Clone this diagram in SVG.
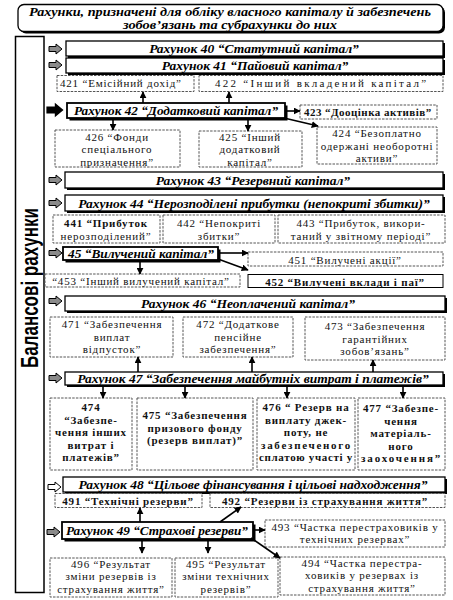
<svg xmlns="http://www.w3.org/2000/svg" xmlns:xlink="http://www.w3.org/1999/xlink" width="453" height="600" viewBox="0 0 453 600">
<style>
.acc{fill:#fff;stroke:#000;stroke-width:1.3}
.sh{fill:#000}
.sub{fill:#fff;stroke:#555;stroke-width:1;stroke-dasharray:2.5 1.2}
.at{font-family:"Liberation Serif",serif;font-weight:bold;font-style:italic;font-size:13.5px;text-anchor:middle;fill:#000}
.tt{font-family:"Liberation Serif",serif;font-weight:bold;font-style:italic;font-size:11.5px;text-anchor:middle;fill:#000}
.st{font-family:"Liberation Serif",serif;font-size:11px;letter-spacing:0.8px;text-anchor:middle;fill:#111}
.b{font-weight:bold}
.con{stroke:#000;stroke-width:1.6;fill:none;marker-end:url(#ah)}
.ig{fill:#8a8a8a;stroke:#000;stroke-width:1}
.iw{fill:#fff;stroke:#000;stroke-width:1}
.ik{fill:#000;stroke:#000;stroke-width:1}
</style>
<defs>
<marker id="ah" viewBox="0 0 10 10" refX="9" refY="5" markerWidth="7" markerHeight="7" markerUnits="userSpaceOnUse" orient="auto">
<path d="M0,0 L10,5 L0,10 Z" fill="#000"/>
</marker>
<path id="ico" d="M0,-2.5 L7,-2.5 L7,-5 L13,0 L7,5 L7,2.5 L0,2.5 Z"/>
</defs>

<g id="title">
<rect x="20" y="6.5" width="425" height="27" rx="6" class="sh"/>
<rect x="18" y="4.5" width="425" height="27" rx="6" fill="#fff" stroke="#000" stroke-width="1.3"/>
<text x="230" y="15.8" class="tt" textLength="402" lengthAdjust="spacingAndGlyphs">Рахунки, призначені для обліку власного капіталу й забезпечень</text>
<text x="230" y="29.2" class="tt" textLength="214" lengthAdjust="spacingAndGlyphs">зобов’язань та субрахунки до них</text>
</g>

<g id="balance">
<rect x="15.5" y="36.5" width="28.5" height="556" fill="#fff" stroke="#000" stroke-width="1.5"/>
<text transform="translate(38,288) rotate(-90)" font-family="Liberation Sans, sans-serif" font-weight="bold" font-size="24" text-anchor="middle" textLength="160" lengthAdjust="spacingAndGlyphs">Балансові рахунки</text>
</g>

<g id="icons">
<use xlink:href="#ico" x="49" y="49" class="ig"/>
<use xlink:href="#ico" x="49" y="65" class="ig"/>
<use xlink:href="#ico" transform="translate(47,110) scale(1.2)" class="ik"/>
<use xlink:href="#ico" x="49" y="180" class="ig"/>
<use xlink:href="#ico" x="49" y="203" class="ig"/>
<use xlink:href="#ico" x="49" y="253" class="ig"/>
<use xlink:href="#ico" x="49" y="301" class="ig"/>
<use xlink:href="#ico" x="49" y="378" class="ig"/>
<use xlink:href="#ico" x="48" y="487" class="iw"/>
<use xlink:href="#ico" x="47" y="532" class="ig"/>
</g>

<g id="a40"><rect x="68" y="43" width="377" height="15" class="sh"/><rect x="66" y="41" width="377" height="15" class="acc"/><text x="254" y="53" class="at">Рахунок 40 “Статутний капітал”</text></g>
<g id="a41"><rect x="68" y="60" width="377" height="15" class="sh"/><rect x="66" y="58" width="377" height="15" class="acc"/><text x="255" y="70" class="at">Рахунок 41 “Пайовий капітал”</text></g>
<g id="s421"><rect x="57" y="75.5" width="137" height="16" class="sub"/><text x="60" y="87" class="st" style="text-anchor:start">421 “Емісійний дохід”</text></g>
<g id="s422"><rect x="199" y="75.5" width="244" height="16" class="sub"/><text x="321" y="87" class="st" textLength="212">422 “Інший вкладений капітал”</text></g>

<g id="a42"><rect x="69.5" y="105.5" width="218" height="15" class="sh"/><rect x="67" y="103" width="218" height="15" class="acc" style="stroke-width:1.8"/><text x="176" y="115" class="at" textLength="204" lengthAdjust="spacingAndGlyphs">Рахунок 42 “Додатковий капітал”</text></g>
<g id="s423"><rect x="300" y="105" width="137" height="14" class="sub"/><text x="368" y="116" class="st b" textLength="128">423 “Дооцінка активів”</text></g>
<g id="s424"><rect x="317" y="127" width="120" height="37" class="sub"/><text x="377" y="137" class="st">424 “Безоплатно</text><text x="377" y="149.5" class="st">одержані необоротні</text><text x="377" y="162" class="st">активи”</text></g>
<g id="s426"><rect x="55" y="130" width="125" height="37" class="sub"/><text x="117" y="140.5" class="st">426 “Фонди</text><text x="117" y="153" class="st">спеціального</text><text x="117" y="165.5" class="st">призначення”</text></g>
<g id="s425"><rect x="199" y="131" width="103" height="36" class="sub"/><text x="250" y="140.5" class="st">425 “Інший</text><text x="250" y="153" class="st">додатковий</text><text x="250" y="165.5" class="st">капітал”</text></g>

<g id="a43"><rect x="67" y="174" width="378" height="16" class="sh"/><rect x="65" y="172" width="378" height="16" class="acc"/><text x="253" y="185" class="at">Рахунок 43 “Резервний капітал”</text></g>
<g id="a44"><rect x="67" y="197" width="378" height="16" class="sh"/><rect x="65" y="195" width="378" height="16" class="acc"/><text x="254" y="207.5" class="at">Рахунок 44 “Нерозподілені прибутки (непокриті збитки)”</text></g>
<g id="s441"><rect x="53" y="215" width="107" height="28" class="sub"/><text x="106" y="226.5" class="st b">441 “Прибуток</text><text x="106" y="239.5" class="st">нерозподілений”</text></g>
<g id="s442"><rect x="163" y="215" width="112" height="28" class="sub"/><text x="219" y="226.5" class="st">442 “Непокриті</text><text x="219" y="239.5" class="st">збитки”</text></g>
<g id="s443"><rect x="278" y="215" width="167" height="28" class="sub"/><text x="361" y="226.5" class="st">443 “Прибуток, викори-</text><text x="361" y="239.5" class="st">таний у звітному періоді”</text></g>

<g id="a45"><rect x="65.5" y="249.5" width="155" height="13" class="sh"/><rect x="63" y="247" width="155" height="13" class="acc" style="stroke-width:1.8"/><text x="141" y="258" class="at" textLength="146" lengthAdjust="spacingAndGlyphs">45 “Вилучений капітал”</text></g>
<g id="s451"><rect x="248" y="252" width="195" height="14" class="sub"/><text x="345" y="263.5" class="st">451 “Вилучені акції”</text></g>
<g id="s453"><rect x="45" y="274" width="195" height="13" class="sub"/><text x="141" y="285" class="st">“453 “Інший вилучений капітал”</text></g>
<g id="s452"><rect x="248" y="274.5" width="195" height="13" class="sub" style="stroke:#000;stroke-dasharray:none"/><text x="345" y="285.5" class="st b">452 “Вилучені вклади і паї”</text></g>

<g id="a46"><rect x="67" y="298" width="380" height="15" class="sh"/><rect x="65" y="296" width="380" height="15" class="acc"/><text x="248" y="308" class="at">Рахунок 46 “Неоплачений капітал”</text></g>
<g id="s471"><rect x="50" y="317" width="123" height="40" class="sub"/><text x="112" y="328" class="st">471 “Забезпечення</text><text x="112" y="340.5" class="st">виплат</text><text x="112" y="353" class="st">відпусток”</text></g>
<g id="s472"><rect x="183" y="317" width="110" height="40" class="sub"/><text x="238" y="328" class="st">472 “Додаткове</text><text x="238" y="340.5" class="st">пенсійне</text><text x="238" y="353" class="st">забезпечення”</text></g>
<g id="s473"><rect x="305" y="317" width="140" height="43" class="sub"/><text x="375" y="330" class="st">473 “Забезпечення</text><text x="375" y="342.5" class="st">гарантійних</text><text x="375" y="355" class="st">зобов’язань”</text></g>

<g id="a47"><rect x="67" y="374" width="378" height="13" class="sh"/><rect x="65" y="372" width="378" height="13" class="acc"/><text x="253" y="383" class="at">Рахунок 47 “Забезпечення майбутніх витрат і платежів”</text></g>
<g id="s474"><rect x="50" y="398" width="82" height="72" class="sub"/><text x="91" y="411" class="st b">474</text><text x="91" y="423.5" class="st b">“Забезпе-</text><text x="91" y="436" class="st b">чення інших</text><text x="91" y="448.5" class="st b">витрат і</text><text x="91" y="461" class="st b">платежів”</text></g>
<g id="s475"><rect x="137" y="398" width="116" height="72" class="sub"/><text x="195" y="419" class="st b">475 “Забезпечення</text><text x="195" y="431.5" class="st b">призового фонду</text><text x="195" y="444" class="st b">(резерв виплат)”</text></g>
<g id="s476"><rect x="257" y="398" width="98" height="72" class="sub"/><text x="306" y="411" class="st b">476 “ Резерв на</text><text x="306" y="423.5" class="st b">виплату джек-</text><text x="306" y="436" class="st b">поту, не</text><text x="306" y="448.5" class="st b" textLength="90">забезпеченого</text><text x="306" y="461" class="st b" textLength="94">сплатою участі у</text></g>
<g id="s477"><rect x="358" y="398" width="87" height="72" class="sub"/><text x="401" y="412" class="st b">477 “Забезпе-</text><text x="401" y="424.5" class="st b">чення</text><text x="401" y="437" class="st b">матеріаль-</text><text x="401" y="449.5" class="st b">ного</text><text x="401" y="462" class="st b" textLength="80">заохочення”</text></g>

<g id="a48"><rect x="65" y="479" width="382" height="15" class="sh"/><rect x="63" y="477" width="382" height="15" class="acc"/><text x="253" y="489" class="at">Рахунок 48 “Цільове фінансування і цільові надходження”</text></g>
<g id="s491"><rect x="55" y="493.5" width="147" height="14" class="sub"/><text x="128" y="504.5" class="st b">491 “Технічні резерви”</text></g>
<g id="s492"><rect x="210" y="493.5" width="235" height="14" class="sub"/><text x="325" y="504.5" class="st b">492 “Резерви із страхування життя”</text></g>

<g id="a49"><rect x="64.5" y="524.5" width="191" height="17" class="sh"/><rect x="62" y="522" width="191" height="17" class="acc" style="stroke-width:1.8"/><text x="157" y="535" class="at" textLength="182" lengthAdjust="spacingAndGlyphs">Рахунок 49 “Страхові резерви”</text></g>
<g id="s493"><rect x="265" y="520" width="180" height="27" class="sub"/><text x="355" y="530.5" class="st">493 “Частка перестраховиків у</text><text x="355" y="543" class="st">технічних резервах”</text></g>
<g id="s496"><rect x="50" y="558" width="122" height="39" class="sub"/><text x="111" y="567.5" class="st">496 “Результат</text><text x="111" y="580" class="st">зміни резервів із</text><text x="111" y="592.5" class="st">страхування життя”</text></g>
<g id="s495"><rect x="175" y="558" width="103" height="39" class="sub"/><text x="226" y="567.5" class="st">495 “Результат</text><text x="226" y="580" class="st">зміни технічних</text><text x="226" y="592.5" class="st">резервів”</text></g>
<g id="s494"><rect x="280" y="557" width="165" height="38" class="sub"/><text x="362" y="566.5" class="st">494 “Частка перестра-</text><text x="362" y="579" class="st">ховиків у резервах із</text><text x="362" y="591.5" class="st">страхування життя”</text></g>

<g id="connectors">
<line x1="143" y1="103" x2="143" y2="92" class="con"/>
<line x1="229" y1="103" x2="229" y2="92" class="con"/>
<line x1="287" y1="111" x2="300" y2="111" class="con"/>
<line x1="284" y1="118" x2="318" y2="126" class="con"/>
<line x1="113" y1="118" x2="113" y2="130" class="con"/>
<line x1="248" y1="118" x2="248" y2="131" class="con"/>
<line x1="220" y1="253" x2="248" y2="253" class="con"/>
<line x1="140" y1="260" x2="140" y2="274" class="con"/>
<line x1="218" y1="259" x2="248" y2="270" class="con"/>
<line x1="138" y1="372" x2="138" y2="357" class="con"/>
<line x1="252" y1="372" x2="252" y2="357" class="con"/>
<line x1="373" y1="372" x2="373" y2="360" class="con"/>
<line x1="103" y1="385" x2="103" y2="398" class="con"/>
<line x1="185" y1="385" x2="185" y2="398" class="con"/>
<line x1="287" y1="385" x2="287" y2="398" class="con"/>
<line x1="403" y1="385" x2="403" y2="398" class="con"/>
<line x1="140" y1="522" x2="140" y2="508" class="con"/>
<line x1="220" y1="522" x2="241" y2="507" class="con"/>
<line x1="255" y1="530" x2="265" y2="530" class="con"/>
<line x1="142" y1="539" x2="142" y2="553" class="con"/>
<line x1="208" y1="539" x2="208" y2="553" class="con"/>
<line x1="251" y1="538" x2="280" y2="558" class="con"/>
</g>
</svg>
